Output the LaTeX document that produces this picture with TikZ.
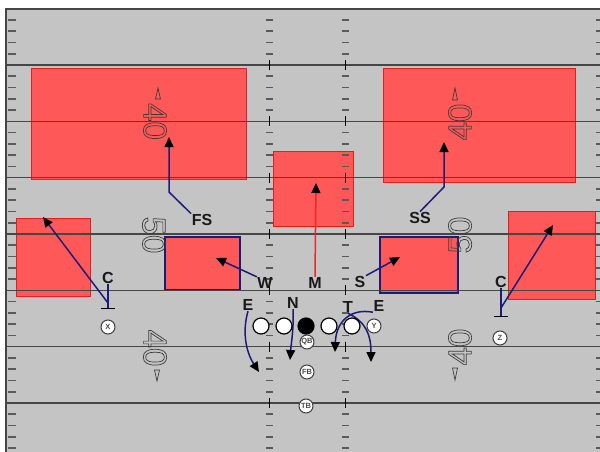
\documentclass[tikz,border=0pt]{standalone}
\usepackage{fontspec}
\setmainfont{Liberation Sans}
\usetikzlibrary{arrows.meta}
\definecolor{fieldgray}{RGB}{196,196,196}
\definecolor{yline}{RGB}{70,70,70}
\definecolor{hashcol}{RGB}{90,90,90}
\definecolor{routecol}{RGB}{28,28,120}
\definecolor{zonered}{RGB}{255,88,88}
\definecolor{zoneedge}{RGB}{228,30,30}
\definecolor{numcol}{RGB}{60,60,60}
\definecolor{labcol}{RGB}{25,25,25}
\definecolor{mred}{RGB}{235,40,40}
\newcommand\outlinetext[1]{\special{pdf:literal direct 1 Tr 0.7 w}#1\special{pdf:literal direct 0 Tr}}
\begin{document}
\begin{tikzpicture}[x=1pt,y=-1pt,
  yardln/.style={draw=yline, line width=1.3pt},
  hashmk/.style={draw=hashcol, line width=1.6pt},
  zone/.style={draw=zoneedge, line width=1pt, fill=zonered, inner sep=0pt, outer sep=0pt, anchor=north west},
  curlzone/.style={draw=routecol, line width=1.8pt, fill=zonered, inner sep=0pt, outer sep=0pt, anchor=north west},
  ynum/.style={font=\fontsize{33}{33}\selectfont, text=numcol, inner sep=0pt},
  ntri/.style={draw=numcol, line width=0.7pt},
  lbl/.style={font=\fontsize{16}{16}\selectfont\bfseries, text=labcol, inner sep=0.5pt},
  player/.style={circle, draw=black, fill=white, line width=1.2pt, minimum size=16pt, inner sep=0pt},
  back/.style={circle, draw=black!75, fill=white, line width=1pt, minimum size=14pt, inner sep=0pt, font=\fontsize{7.5}{7.5}\selectfont\bfseries, text=black!70},
  route/.style={draw=routecol, line width=1.5pt, line join=round, -{Triangle[length=10pt,width=9pt,color=black]}},
  press/.style={draw=routecol, line width=1.5pt, -{Bar[width=14pt,color=black]}}
]
\useasboundingbox (0,0) rectangle (600,452);
\fill[white] (0,0) rectangle (600,452);
% field
\fill[fieldgray] (6,9) rectangle (600,452);
% zones
\node[zone, minimum width=215pt, minimum height=110pt] (deepL) at (31,69) {};
\node[zone, minimum width=192pt, minimum height=113pt] (deepR) at (383,69) {};
\node[zone, minimum width=80pt, minimum height=75pt] (hook) at (273,151) {};
\node[zone, minimum width=74pt, minimum height=78pt] (flatL) at (16,218) {};
\node[zone, minimum width=87pt, minimum height=88pt] (flatR) at (508,211) {};
\node[curlzone, minimum width=75pt, minimum height=53pt] (curlL) at (165,237) {};
\node[curlzone, minimum width=78pt, minimum height=56pt] (curlR) at (380,237) {};
\draw[draw=yline, line width=2pt] (6,452) -- (6,9) -- (600,9);
% yard lines
\foreach \i in {0,...,6}{
  \pgfmathsetmacro\yy{65+56.333*\i}
  \draw[yardln] (6,\yy) -- (600,\yy);
  \draw[draw=black, line width=1pt] (269,\yy-5) -- (269,\yy+5);
  \draw[draw=black, line width=1pt] (345,\yy-5) -- (345,\yy+5);
}
% hash marks
\foreach \i in {-1,...,6}{
  \foreach \j in {1,...,4}{
    \pgfmathsetmacro\yy{65+56.333*\i+11.267*\j}
    \draw[hashmk] (8,\yy) -- (16,\yy);
    \draw[hashmk] (596,\yy) -- (600,\yy);
    \draw[hashmk] (266,\yy) -- (273,\yy);
    \draw[hashmk] (342,\yy) -- (349,\yy);
  }
}
% yard numbers
\node[ynum, rotate=-90] (nLa) at (155,121.5) {\outlinetext{40}};
\node[ynum, rotate=-90] (nLb) at (154,235) {\outlinetext{50}};
\node[ynum, rotate=-90] (nLc) at (155,348) {\outlinetext{40}};
\node[ynum, rotate=90] (nRa) at (460,122) {\outlinetext{40}};
\node[ynum, rotate=90] (nRb) at (460,235) {\outlinetext{50}};
\node[ynum, rotate=90] (nRc) at (460,347) {\outlinetext{40}};
\draw[ntri] (158,88) -- (160.5,99) -- (155.5,99) -- cycle;
\draw[ntri] (455,88) -- (457.5,100) -- (452.5,100) -- cycle;
\draw[ntri] (157,381) -- (159.5,370) -- (154.5,370) -- cycle;
\draw[ntri] (455,380) -- (457.5,368) -- (452.5,368) -- cycle;
% defenders
\node[lbl] (FS) at (202,220) {FS};
\node[lbl] (SS) at (420,218) {SS};
\node[lbl] (W) at (265,283) {W};
\node[lbl] (M) at (315,283) {M};
\node[lbl] (S) at (360,282) {S};
\node[lbl] (EL) at (248,305) {E};
\node[lbl] (N) at (293,303) {N};
\node[lbl] (T) at (348,307) {T};
\node[lbl] (ER) at (379,306) {E};
\node[lbl] (CL) at (108,278) {C};
\node[lbl] (CR) at (501,282) {C};
% route points
\coordinate (fsbend) at (169,192);
\coordinate (fsend) at (169,137);
\coordinate (ssbend) at (444,187);
\coordinate (ssend) at (444,142);
\coordinate (wend) at (216,258);
\coordinate (send) at (400,257);
\coordinate (mend) at (316,183);
\coordinate (clbar) at (108,309);
\coordinate (clstart) at (108,303);
\coordinate (clend) at (43,217);
\coordinate (crbar) at (501,317);
\coordinate (crstart) at (501,308);
\coordinate (crend) at (553,225);
\coordinate (elend) at (259,372);
\coordinate (nend) at (290,360);
\coordinate (tend) at (371,362);
\coordinate (erend) at (335,352);
% routes
\draw[route] (FS.north west) -- (fsbend) -- (fsend);
\draw[route] (SS.north) -- (ssbend) -- (ssend);
\draw[route] (W.north west) -- (wend);
\draw[route] (S.north east) -- (send);
\draw[route, draw=mred] (M.north) -- (mend);
\draw[press] (CL.south) -- (clbar);
\draw[route] (clstart) -- (clend);
\draw[press] (CR.south) -- (crbar);
\draw[route] (crstart) -- (crend);
\draw[route] (EL.south) .. controls (242,332) and (246,352) .. (elend);
\draw[route] (N.south) .. controls (294,328) and (291,345) .. (nend);
\draw[route] (T.south) .. controls (366,322) and (371,335) .. (tend);
\draw[route] (ER.south west) .. controls (350,308) and (336,322) .. (erend);
% offense
\node[back] (X) at (108,327) {X};
\node[back] (Z) at (500,338) {Z};
\node[back] (QB) at (307,342) {QB};
\node[back] (FB) at (307,372) {FB};
\node[back] (TB) at (306,406) {TB};
\node[player] (LT) at (261,326) {};
\node[player] (LG) at (284,326) {};
\node[player, fill=black] (CC) at (306,326) {};
\node[player] (RG) at (329,326) {};
\node[player] (RT) at (352,326) {};
\node[back] (Y) at (374,326) {Y};
\end{tikzpicture}
\end{document}
